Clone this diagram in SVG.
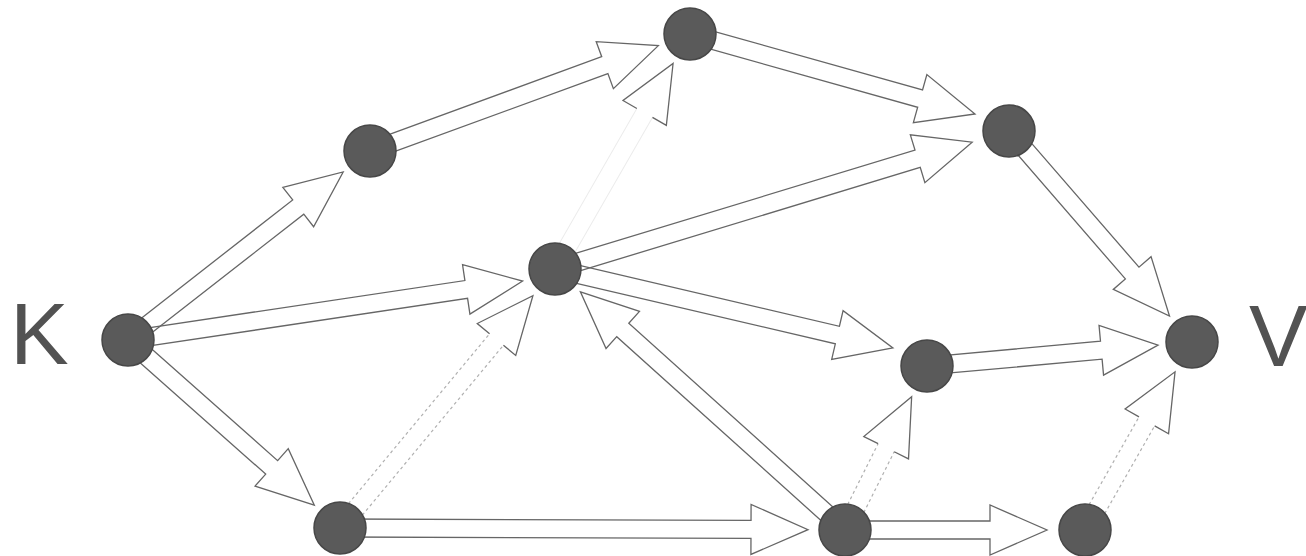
<svg xmlns="http://www.w3.org/2000/svg" width="1306" height="556" viewBox="0 0 1306 556">
<style>
.bg{fill:#ffffff}
.arr{fill:none;stroke:#666666;stroke-width:1.3;stroke-linejoin:miter}
.faint{fill:none;stroke:#b0b0b0;stroke-width:1.2;stroke-dasharray:3 3}
.ghost{fill:none;stroke:#ececec;stroke-width:1}
.node{fill:#5a5a5a;stroke:#474747;stroke-width:1.5}
.lbl{font-family:"Liberation Sans",Arial,sans-serif;font-size:88px;fill:#525252}
</style>
<rect class="bg" x="0" y="0" width="1306" height="556"/>
<g id="connectors">
  <!-- K -> N1 -->
  <path class="arr" transform="translate(128,340) rotate(-37.99)" d="M0,-9 H216 V-25 L273,0 L216,25 V9 H0"/>
  <!-- K -> N4 -->
  <path class="arr" transform="translate(128,340) rotate(-8.5)" d="M0,-9 H342 V-25 L399,0 L342,25 V9 H0"/>
  <!-- K -> N6 -->
  <path class="arr" transform="translate(128,340) rotate(41.56)" d="M0,-9 H192 V-25 L249,0 L192,25 V9 H0"/>
  <!-- N1 -> N2 -->
  <path class="arr" transform="translate(370,151) rotate(-20.08)" d="M0,-9 H250 V-25 L307,0 L250,25 V9 H0"/>
  <!-- N4 -> N2 (shaft faded) -->
  <path class="ghost" transform="translate(555,269) rotate(-60.12)" d="M0,-9 H180 M0,9 H180"/>
  <path class="arr" transform="translate(555,269) rotate(-60.12)" d="M180,-9 V-25 L237,0 L180,25 V9"/>
  <!-- N2 -> N3 -->
  <path class="arr" transform="translate(690,34) rotate(15.68)" d="M0,-9 H239 V-25 L296,0 L239,25 V9 H0"/>
  <!-- N4 -> N3 -->
  <path class="arr" transform="translate(555,269) rotate(-16.91)" d="M0,-9 H379 V-25 L436,0 L379,25 V9 H0"/>
  <!-- N4 -> N5 -->
  <path class="arr" transform="translate(555,269) rotate(13.16)" d="M0,-9 H290 V-25 L347,0 L290,25 V9 H0"/>
  <!-- N6 -> N4 -->
  <path class="faint" transform="translate(340,528) rotate(-50.30)" d="M0,-9 H245 M0,9 H245"/>
  <path class="arr" transform="translate(340,528) rotate(-50.30)" d="M245,-9 V-25 L302,0 L245,25 V9"/>
  <!-- N7 -> N4 -->
  <path class="arr" transform="translate(845,530) rotate(-138.01)" d="M0,-9 H299 V-25 L356,0 L299,25 V9 H0"/>
  <!-- N6 -> N7 -->
  <path class="arr" transform="translate(340,528) rotate(0.2)" d="M0,-9 H411 V-25 L468,0 L411,25 V9 H0"/>
  <!-- N7 -> N5 -->
  <path class="faint" transform="translate(845,530) rotate(-63.43)" d="M0,-9 H92 M0,9 H92"/>
  <path class="arr" transform="translate(845,530) rotate(-63.43)" d="M92,-9 V-25 L149,0 L92,25 V9"/>
  <!-- N7 -> N8 -->
  <path class="arr" transform="translate(845,530)" d="M0,-9 H145 V-25 L202,0 L145,25 V9 H0"/>
  <!-- N3 -> V -->
  <path class="arr" transform="translate(1009,131) rotate(49.07)" d="M0,-9 H188 V-25 L245,0 L188,25 V9 H0"/>
  <!-- N5 -> V -->
  <path class="arr" transform="translate(927,366) rotate(-5.17)" d="M0,-9 H175 V-25 L232,0 L175,25 V9 H0"/>
  <!-- N8 -> V -->
  <path class="faint" transform="translate(1085,530) rotate(-60.35)" d="M0,-9 H125 M0,9 H125"/>
  <path class="arr" transform="translate(1085,530) rotate(-60.35)" d="M125,-9 V-25 L182,0 L125,25 V9"/>
</g>
<g id="node-K">
  <circle class="node" cx="128" cy="340" r="26"/>
  <text class="lbl" x="10" y="364">K</text>
</g>
<g id="node-1"><circle class="node" cx="370" cy="151" r="26"/></g>
<g id="node-2"><circle class="node" cx="690" cy="34" r="26"/></g>
<g id="node-3"><circle class="node" cx="1009" cy="131" r="26"/></g>
<g id="node-4"><circle class="node" cx="555" cy="269" r="26"/></g>
<g id="node-5"><circle class="node" cx="927" cy="366" r="26"/></g>
<g id="node-6"><circle class="node" cx="340" cy="528" r="26"/></g>
<g id="node-7"><circle class="node" cx="845" cy="530" r="26"/></g>
<g id="node-8"><circle class="node" cx="1085" cy="530" r="26"/></g>
<g id="node-V">
  <circle class="node" cx="1192" cy="342" r="26"/>
  <text class="lbl" x="1249" y="366">V</text>
</g>
</svg>
